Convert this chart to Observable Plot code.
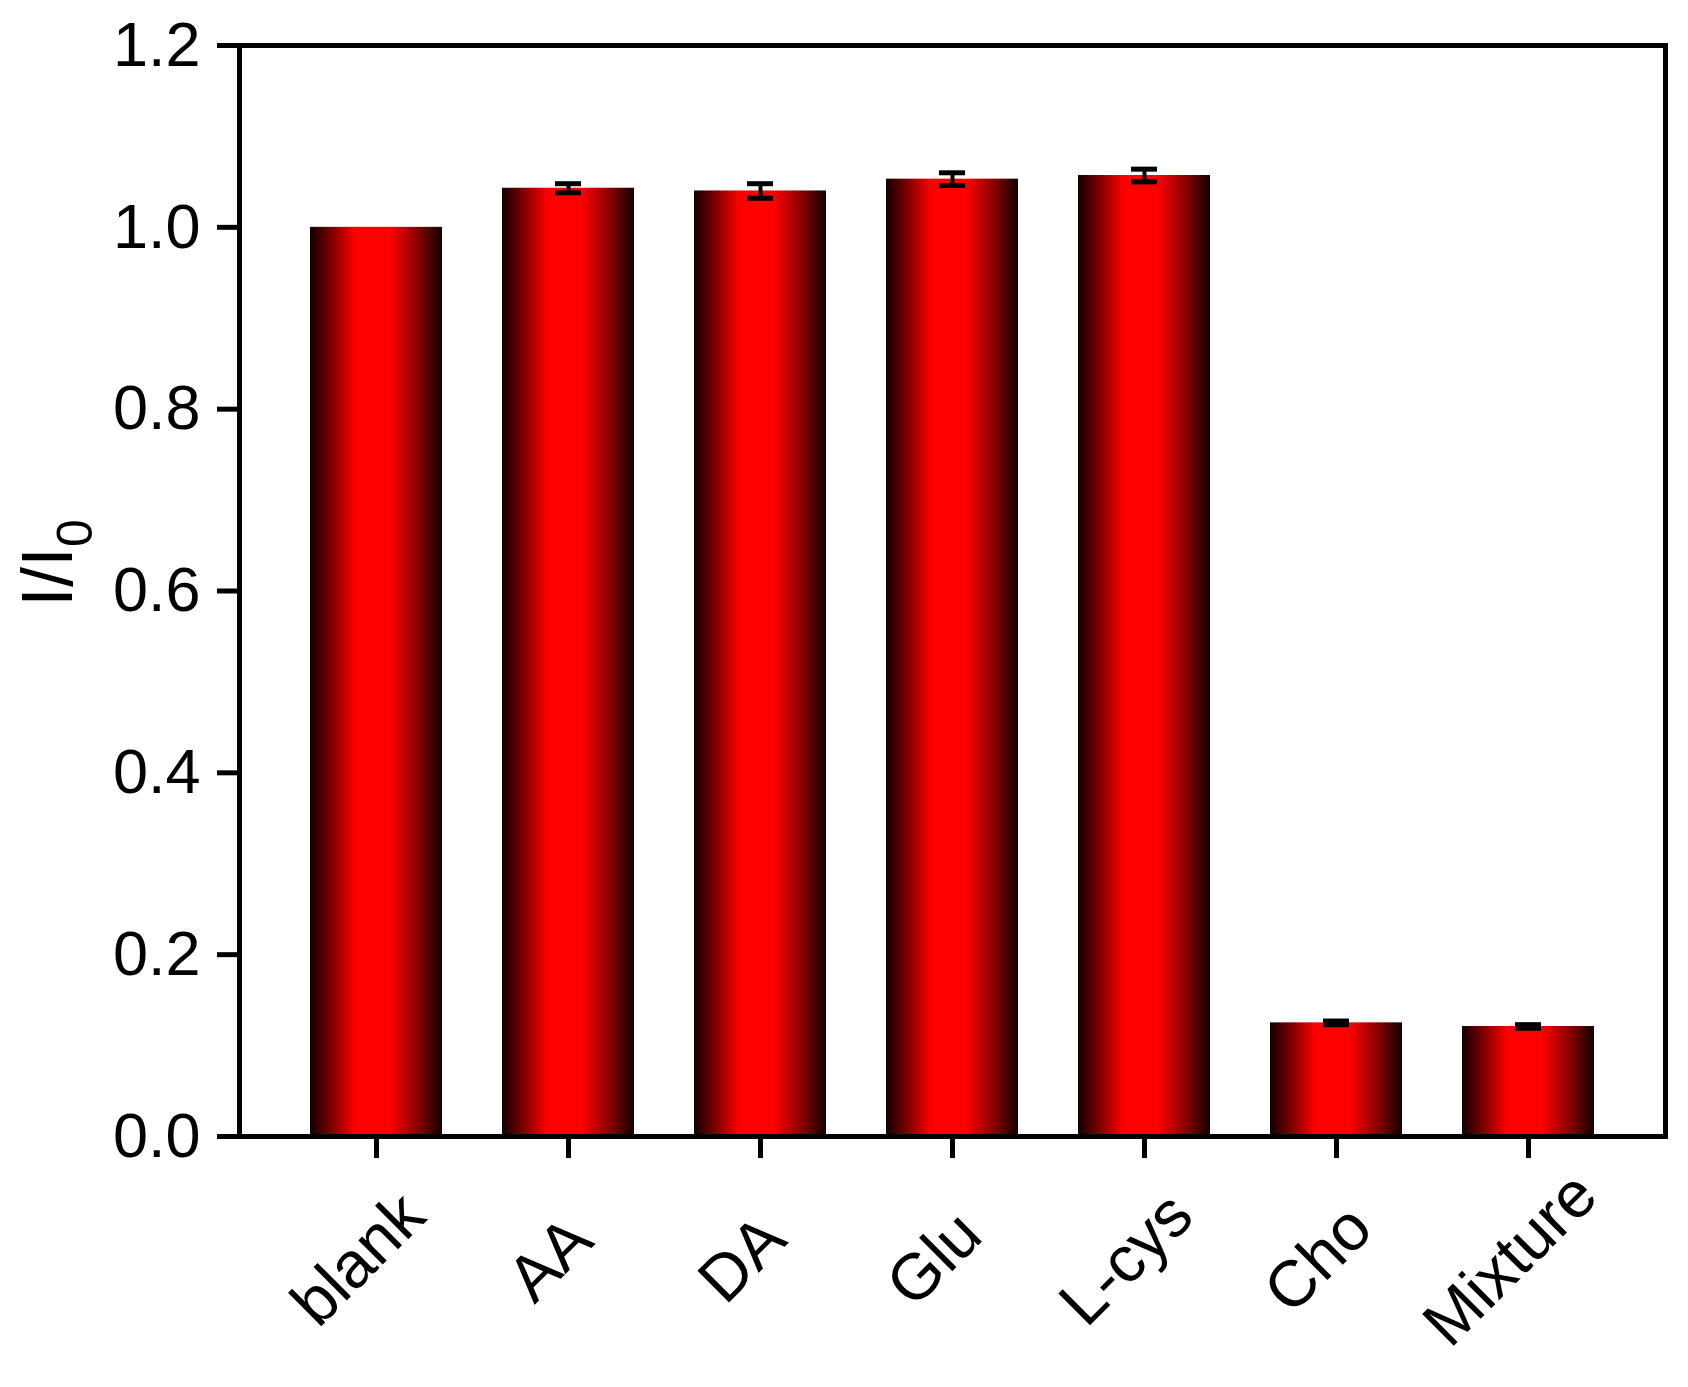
<!DOCTYPE html>
<html>
<head>
<meta charset="utf-8">
<script src="https://cdn.jsdelivr.net/npm/d3@7"></script>
<script src="https://cdn.jsdelivr.net/npm/@observablehq/plot@0.6"></script>
<style>
  html, body { margin: 0; padding: 0; background: #ffffff; }
</style>
</head>
<body>
<div id="chart"></div>
<script>
// ---- data ----
const categories = ["blank", "AA", "DA", "Glu", "L-cys", "Cho", "Mixture"];
const values = [1.000, 1.043, 1.040, 1.053, 1.057, 0.125, 0.121];
const errors = [0.000, 0.005, 0.008, 0.007, 0.007, 0.002, 0.002];
const yTicks = [0.0, 0.2, 0.4, 0.6, 0.8, 1.0, 1.2];
const yLabel = "I/I0";

const data = categories.map((name, i) => ({name, value: values[i], err: errors[i]}));
const withErr = data.filter(d => d.err > 0);

const chart = Plot.plot({
  width: 1688,
  height: 1387,
  marginLeft: 239,
  marginRight: 23,
  marginTop: 45,
  marginBottom: 251,
  style: {fontFamily: "'Liberation Sans', Arial, sans-serif", color: "#000", background: "#fff"},
  x: {domain: categories, paddingInner: 0.311, paddingOuter: 0.352, label: null},
  y: {domain: [0, 1.2], label: null},
  marks: [
    Plot.barY(data, {x: "name", y: "value", fill: "url(#barGrad)"}),
    Plot.ruleX(withErr, {x: "name", y1: d => d.value - d.err, y2: d => d.value + d.err, stroke: "#000", strokeWidth: 4}),
    Plot.tickY(withErr, {x: "name", y: d => d.value + d.err, stroke: "#000", strokeWidth: 5, insetLeft: 53, insetRight: 53}),
    Plot.tickY(withErr, {x: "name", y: d => d.value - d.err, stroke: "#000", strokeWidth: 5, insetLeft: 53, insetRight: 53}),
    Plot.frame({stroke: "#000", strokeWidth: 5}),
    Plot.axisY({ticks: yTicks, tickFormat: d3.format(".1f"), tickSize: 22, tickPadding: 17, fontSize: 63, strokeWidth: 5, label: null}),
    Plot.axisX({tickSize: 22, strokeWidth: 5, fill: "none", label: null}),
    Plot.text(categories, {x: d => d, text: d => d, frameAnchor: "bottom", dx: -18, dy: 123, rotate: -45,
      textAnchor: "middle", lineAnchor: "middle", fontSize: 65, fill: "#000"}),
    Plot.text([yLabel], {text: d => d, frameAnchor: "left", dx: -191, dy: -28, rotate: -90,
      textAnchor: "middle", lineAnchor: "middle", fontSize: 72,
      fontFamily: "'Liberation Sans Narrow', 'Liberation Sans', Arial, sans-serif", fill: "#000"})
  ]
});

// gradient definition for the bars
const NS = "http://www.w3.org/2000/svg";
const defs = document.createElementNS(NS, "defs");
const grad = document.createElementNS(NS, "linearGradient");
grad.setAttribute("id", "barGrad");
grad.setAttribute("x1", "0"); grad.setAttribute("x2", "1");
grad.setAttribute("y1", "0"); grad.setAttribute("y2", "0");
[[0, "#120000"], [0.14, "#6e0000"], [0.34, "#ff0000"], [0.6, "#ff0000"], [0.84, "#7a0000"], [1, "#120000"]]
  .forEach(([o, c]) => {
    const s = document.createElementNS(NS, "stop");
    s.setAttribute("offset", o);
    s.setAttribute("stop-color", c);
    grad.appendChild(s);
  });
defs.appendChild(grad);
chart.insertBefore(defs, chart.firstChild);

// subscript in the y label
chart.querySelectorAll("text").forEach(t => {
  if (t.textContent === yLabel) {
    t.textContent = "I/I";
    const sub = document.createElementNS(NS, "tspan");
    sub.setAttribute("font-size", "50");
    sub.setAttribute("dy", "20");
    sub.textContent = "0";
    t.appendChild(sub);
  }
});

document.getElementById("chart").appendChild(chart);
</script>
</body>
</html>
